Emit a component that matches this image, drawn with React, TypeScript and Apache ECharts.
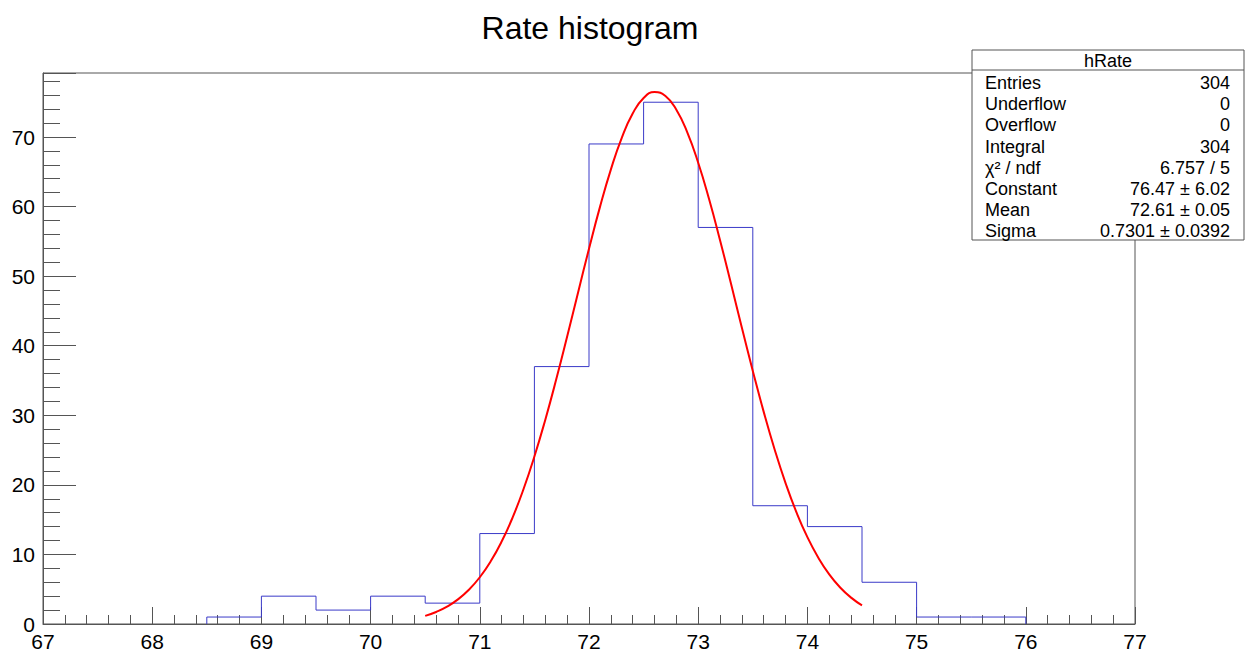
import React, { useEffect, useRef } from 'react';
import * as echarts from 'echarts';

// Histogram bins (width 0.5)
const binEdges = [68.5, 69, 69.5, 70, 70.5, 71, 71.5, 72, 72.5, 73, 73.5, 74, 74.5, 75, 75.5, 76];
const binCounts = [1, 4, 2, 4, 3, 13, 37, 69, 75, 57, 17, 14, 6, 1, 1];

// Gaussian fit curve
const fitX = [
  70.5, 70.6, 70.7, 70.8, 70.9, 71.0, 71.1, 71.2, 71.3, 71.4, 71.5, 71.6, 71.7, 71.8, 71.9,
  72.0, 72.1, 72.2, 72.3, 72.4, 72.5, 72.6, 72.7, 72.8, 72.9, 73.0, 73.1, 73.2, 73.3, 73.4,
  73.5, 73.6, 73.7, 73.8, 73.9, 74.0, 74.1, 74.2, 74.3, 74.4, 74.5,
];
const fitY = [
  1.17, 1.73, 2.5, 3.54, 4.92, 6.72, 9.01, 11.85, 15.29, 19.37, 24.08, 29.37, 35.17, 41.33, 47.66,
  53.94, 59.92, 65.31, 69.88, 73.37, 75.61, 76.46, 75.89, 73.92, 70.67, 66.3, 61.05, 55.17, 48.93, 42.58,
  36.38, 30.49, 25.09, 20.26, 16.05, 12.48, 9.53, 7.14, 5.25, 3.79, 2.68,
];

const xMin = 67;
const xMax = 77;
const yMin = 0;
const yMax = 79.2;

const titleText = 'Rate histogram';
const statsName = 'hRate';
const statsLabels = ['Entries', 'Underflow', 'Overflow', 'Integral', 'χ² / ndf', 'Constant', 'Mean', 'Sigma'];
const statsValues = ['304', '0', '0', '304', '6.757 / 5', '76.47 ± 6.02', '72.61 ± 0.05', '0.7301 ± 0.0392'];

const FONT = "'Liberation Sans', Arial, Helvetica, sans-serif";
const AXIS_COLOR = '#555';

export default function App() {
  const ref = useRef<HTMLDivElement>(null);

  useEffect(() => {
    document.body.style.margin = '0';
    if (!ref.current) return;
    const chart = echarts.init(ref.current, undefined, { renderer: 'svg' });

    const stepData: number[][] = [[binEdges[0], 0]];
    for (let i = 0; i < binCounts.length; i++) stepData.push([binEdges[i], binCounts[i]]);
    stepData.push([binEdges[binEdges.length - 1], binCounts[binCounts.length - 1]]);
    stepData.push([binEdges[binEdges.length - 1], 0]);

    const fitData = fitX.map((x, i) => [x, fitY[i]]);

    const rowY0 = 83;
    const rowStep = 21.2;
    const statsGraphics: any[] = [
      {
        type: 'rect',
        z: 100,
        shape: { x: 972, y: 50, width: 272, height: 190 },
        style: { fill: '#fff', stroke: AXIS_COLOR, lineWidth: 1 },
      },
      {
        type: 'line',
        z: 101,
        shape: { x1: 972, y1: 70, x2: 1244, y2: 70 },
        style: { stroke: AXIS_COLOR, lineWidth: 1 },
      },
      {
        type: 'text',
        z: 102,
        x: 1108,
        y: 61,
        style: {
          text: statsName,
          fontSize: 18,
          fontFamily: FONT,
          fill: '#000',
          align: 'center',
          verticalAlign: 'middle',
        },
      },
    ];
    statsLabels.forEach((lab, i) => {
      statsGraphics.push({
        type: 'text',
        z: 102,
        x: 985,
        y: rowY0 + rowStep * i,
        style: { text: lab, fontSize: 18, fontFamily: FONT, fill: '#000', align: 'left', verticalAlign: 'middle' },
      });
      statsGraphics.push({
        type: 'text',
        z: 102,
        x: 1230,
        y: rowY0 + rowStep * i,
        style: { text: statsValues[i], fontSize: 18, fontFamily: FONT, fill: '#000', align: 'right', verticalAlign: 'middle' },
      });
    });

    chart.setOption({
      animation: false,
      backgroundColor: '#fff',
      grid: {
        left: 43,
        right: 110,
        top: 73,
        bottom: 26,
        show: true,
        borderColor: AXIS_COLOR,
        borderWidth: 1,
        backgroundColor: 'transparent',
      },
      xAxis: {
        type: 'value',
        min: xMin,
        max: xMax,
        interval: 1,
        axisLine: { show: true, onZero: false, lineStyle: { color: AXIS_COLOR, width: 1 } },
        axisTick: { show: true, inside: true, length: 17, lineStyle: { color: AXIS_COLOR, width: 1 } },
        minorTick: { show: true, splitNumber: 5, length: 9, lineStyle: { color: AXIS_COLOR, width: 1 } },
        axisLabel: { fontSize: 21, color: '#000', fontFamily: FONT, margin: 7, showMinLabel: true, showMaxLabel: true },
        splitLine: { show: false },
      },
      yAxis: [
        {
          type: 'value',
          position: 'left',
          min: yMin,
          max: yMax,
          interval: 10,
          axisLine: { show: true, lineStyle: { color: AXIS_COLOR, width: 1 } },
          axisTick: { show: true, inside: true, length: 33, lineStyle: { color: AXIS_COLOR, width: 1 } },
          axisLabel: {
            fontSize: 21,
            color: '#000',
            fontFamily: FONT,
            margin: 8,
            formatter: (v: number) => (Math.abs(v % 10) < 1e-6 ? String(v) : ''),
          },
          splitLine: { show: false },
        },
        {
          type: 'value',
          position: 'left',
          min: yMin,
          max: yMax,
          interval: 2,
          axisLine: { show: false },
          axisTick: { show: true, inside: true, length: 17, lineStyle: { color: AXIS_COLOR, width: 1 } },
          axisLabel: { show: false },
          splitLine: { show: false },
        },
      ],
      series: [
        {
          type: 'line',
          name: 'hRate',
          yAxisIndex: 0,
          data: stepData,
          step: 'end',
          showSymbol: false,
          symbol: 'none',
          lineStyle: { color: '#3a3ac8', width: 1 },
          silent: true,
          z: 2,
        },
        {
          type: 'line',
          name: 'fit',
          yAxisIndex: 0,
          data: fitData,
          smooth: true,
          showSymbol: false,
          symbol: 'none',
          lineStyle: { color: '#ff0000', width: 2 },
          silent: true,
          z: 3,
        },
      ],
      graphic: [
        {
          type: 'text',
          z: 100,
          x: 590,
          y: 28,
          style: {
            text: titleText,
            fontSize: 32,
            fontFamily: FONT,
            fill: '#000',
            align: 'center',
            verticalAlign: 'middle',
          },
        },
        ...statsGraphics,
      ],
    });

    return () => {
      chart.dispose();
    };
  }, []);

  return <div ref={ref} style={{ width: 1245, height: 652 }} />;
}
